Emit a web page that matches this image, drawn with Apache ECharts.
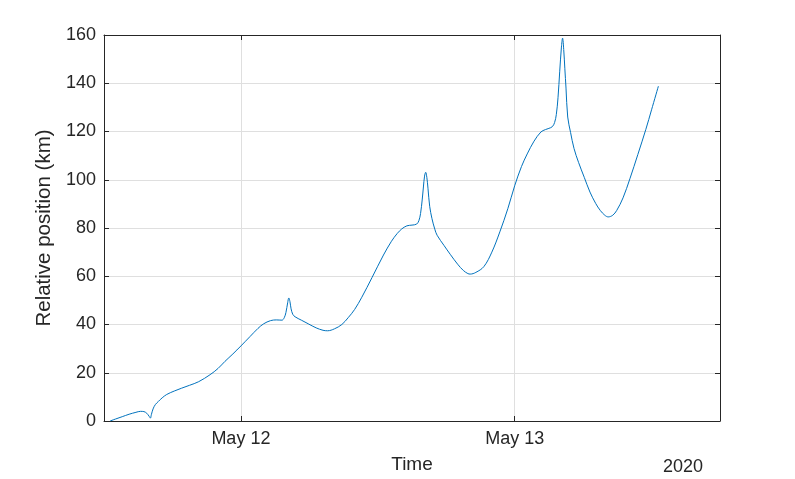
<!DOCTYPE html>
<html>
<head>
<meta charset="utf-8">
<script src="https://cdn.jsdelivr.net/npm/echarts@6/dist/echarts.min.js"></script>
<style>
html,body{margin:0;padding:0;background:#fff;}
#chart{width:795px;height:479px;}
</style>
</head>
<body>
<div id="chart"></div>
<script>
// Time stamps (local time, 2020)
const times = [
'2020-05-11T12:32','2020-05-11T13:00','2020-05-11T13:36','2020-05-11T14:12','2020-05-11T14:48',
'2020-05-11T15:12','2020-05-11T15:30','2020-05-11T15:45','2020-05-11T15:57','2020-05-11T16:04',
'2020-05-11T16:09','2020-05-11T16:18','2020-05-11T16:30','2020-05-11T16:46','2020-05-11T17:06',
'2020-05-11T17:30','2020-05-11T18:12','2020-05-11T18:48','2020-05-11T19:30','2020-05-11T20:18',
'2020-05-11T21:18','2020-05-11T22:00','2020-05-11T22:36','2020-05-11T23:18','2020-05-12T00:00',
'2020-05-12T00:48','2020-05-12T01:30','2020-05-12T02:00','2020-05-12T02:36','2020-05-12T03:06',
'2020-05-12T03:36','2020-05-12T03:48','2020-05-12T03:57','2020-05-12T04:06','2020-05-12T04:12',
'2020-05-12T04:18','2020-05-12T04:24','2020-05-12T04:33','2020-05-12T04:45','2020-05-12T05:18',
'2020-05-12T05:54','2020-05-12T06:36','2020-05-12T07:12','2020-05-12T07:36','2020-05-12T08:12',
'2020-05-12T08:51','2020-05-12T09:24','2020-05-12T09:58','2020-05-12T10:36','2020-05-12T11:30',
'2020-05-12T12:30','2020-05-12T13:12','2020-05-12T13:42','2020-05-12T14:06','2020-05-12T14:33',
'2020-05-12T15:00','2020-05-12T15:24','2020-05-12T15:36','2020-05-12T15:45','2020-05-12T15:54',
'2020-05-12T16:00','2020-05-12T16:06','2020-05-12T16:12','2020-05-12T16:18','2020-05-12T16:24',
'2020-05-12T16:33','2020-05-12T16:45','2020-05-12T17:00','2020-05-12T17:12','2020-05-12T17:48',
'2020-05-12T18:21','2020-05-12T19:00','2020-05-12T19:30','2020-05-12T19:54','2020-05-12T20:06',
'2020-05-12T20:36','2020-05-12T21:18','2020-05-12T22:00','2020-05-12T22:42','2020-05-12T23:24',
'2020-05-13T00:00','2020-05-13T00:36','2020-05-13T01:06','2020-05-13T01:42','2020-05-13T02:18',
'2020-05-13T02:42','2020-05-13T03:00','2020-05-13T03:18','2020-05-13T03:30','2020-05-13T03:39',
'2020-05-13T03:48','2020-05-13T03:57','2020-05-13T04:06','2020-05-13T04:12','2020-05-13T04:18',
'2020-05-13T04:24','2020-05-13T04:30','2020-05-13T04:39','2020-05-13T04:54','2020-05-13T05:12',
'2020-05-13T05:36','2020-05-13T06:06','2020-05-13T06:36','2020-05-13T07:06','2020-05-13T07:30',
'2020-05-13T07:54','2020-05-13T08:12','2020-05-13T08:36','2020-05-13T08:57','2020-05-13T09:30',
'2020-05-13T10:06','2020-05-13T10:48','2020-05-13T11:30','2020-05-13T12:00','2020-05-13T12:36'
];
// Relative position (km)
const positions = [
0,0.8,1.8,2.8,3.6,
4.0,3.9,3.2,2.0,1.2,
2.6,5.0,6.8,8.1,9.6,
11.0,12.5,13.6,14.8,16.3,
19.2,21.8,24.7,27.8,31.1,
35.0,38.4,40.3,41.6,41.9,
41.8,42.8,45,49,51,
49.5,46.5,44.2,43.2,41.8,
40.3,38.6,37.6,37.4,38.2,
40,42.8,46.2,51.3,59.5,
68.8,74.5,77.7,79.6,80.9,
81.2,81.6,83,86,92,
97,101.5,103.1,101,96.5,
89,83.9,79.5,77,72.8,
69.1,65,62.4,61.1,60.9,
61.6,64,70,78.4,88,
97.5,105.5,110.7,116,119.8,
120.8,121.3,122,123.7,127,
134,145,155,158.7,154,
146,138,126,119.6,113,
107.2,101,94.9,90.2,87.3,
85.3,84.6,85.3,87.3,92.5,
100.4,110.5,120.9,129,138.8
];
const xRange = ['2020-05-11T12:00','2020-05-13T18:00'];
const xTicks = ['2020-05-12T00:00','2020-05-13T00:00'];
const yTicks = [0,20,40,60,80,100,120,140,160];
const xLabel = 'Time';
const yLabel = 'Relative position (km)';
const yearLabel = '2020';

const ms = s => new Date(s).getTime();
const tickMs = xTicks.map(ms);
const months = ['Jan','Feb','Mar','Apr','May','Jun','Jul','Aug','Sep','Oct','Nov','Dec'];
const fmt = v => { const d = new Date(v); return months[d.getMonth()] + ' ' + d.getDate(); };

const dark = '#262626';
const gridC = '#dfdfdf';
const font = 'Liberation Sans, Arial, Helvetica, sans-serif';

const chart = echarts.init(document.getElementById('chart'), null, {renderer:'canvas'});
const baseX = {
  type: 'value', min: ms(xRange[0]), max: ms(xRange[1]),
  axisLine: {show: true, onZero: false, lineStyle: {color: dark, width: 1}},
  axisTick: {show: true, inside: true, length: 5, customValues: tickMs, lineStyle: {color: dark}},
  axisLabel: {show: false, customValues: tickMs},
  splitLine: {show: false}
};
const baseY = {
  type: 'value', min: yTicks[0], max: yTicks[yTicks.length-1], interval: yTicks[1]-yTicks[0],
  axisLine: {show: true, onZero: false, lineStyle: {color: dark, width: 1}},
  axisTick: {show: true, inside: true, length: 5, lineStyle: {color: dark}},
  axisLabel: {show: false},
  splitLine: {show: false}
};
chart.setOption({
  animation: false,
  backgroundColor: '#fff',
  grid: {left: 104, right: 75, top: 35, bottom: 54, containLabel: false},
  xAxis: [
    Object.assign({}, baseX, {
      position: 'bottom',
      name: xLabel, nameLocation: 'middle', nameGap: 34,
      nameTextStyle: {color: dark, fontSize: 19, fontFamily: font},
      axisLabel: {show: true, customValues: tickMs, formatter: fmt, color: dark, fontSize: 18, fontFamily: font, margin: 9},
      splitLine: {show: true, lineStyle: {color: gridC, width: 1}}
    }),
    Object.assign({}, baseX, {position: 'top'})
  ],
  yAxis: [
    Object.assign({}, baseY, {
      position: 'left',
      name: yLabel, nameLocation: 'middle', nameGap: 39, nameRotate: 90,
      nameTextStyle: {color: dark, fontSize: 20.5, fontFamily: font},
      axisLabel: {show: true, color: dark, fontSize: 18, fontFamily: font, margin: 8},
      splitLine: {show: true, lineStyle: {color: gridC, width: 1}}
    }),
    Object.assign({}, baseY, {position: 'right'})
  ],
  graphic: [{
    type: 'text', right: 92, top: 458,
    style: {text: yearLabel, fill: dark, font: '18px ' + font}
  }],
  series: [{
    type: 'line', xAxisIndex: 0, yAxisIndex: 0,
    data: times.map((t, i) => [ms(t), positions[i]]),
    showSymbol: false, smooth: 0.35,
    lineStyle: {color: '#0072BD', width: 1},
    itemStyle: {color: '#0072BD'}
  }]
});
</script>
</body>
</html>
